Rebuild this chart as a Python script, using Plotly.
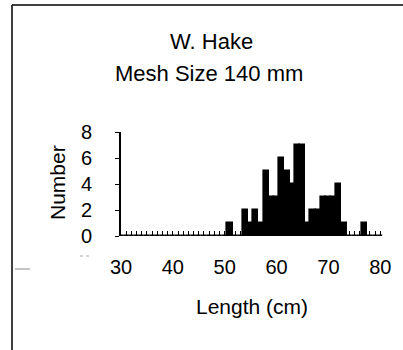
import plotly.graph_objects as go

# Data (length in cm -> number of fish)
lengths = list(range(30, 81))
counts_map = {51: 1, 54: 2, 55: 1, 56: 2, 57: 1, 58: 5, 59: 3, 60: 3, 61: 6,
              62: 5, 63: 4, 64: 7, 65: 7, 66: 1, 67: 2, 68: 2, 69: 3, 70: 3,
              71: 3, 72: 4, 73: 1, 77: 1}
counts = [counts_map.get(L, 0) for L in lengths]
x_ticks = [30, 40, 50, 60, 70, 80]
y_ticks = [0, 2, 4, 6, 8]
title_lines = ["W. Hake", "Mesh Size 140 mm"]
x_title = "Length (cm)"
y_title = "Number"

FONT = "Liberation Sans, Arial, Helvetica, sans-serif"
W, H = 403, 350
ML, MR, MT, MB = 121, 18, 132, 114
PW, PH = W - ML - MR, H - MT - MB

fig = go.Figure()
fig.add_trace(go.Bar(
    x=lengths, y=counts, width=1,
    marker=dict(color="black", line=dict(color="black", width=1.6)),
    showlegend=False,
))

fig.update_layout(
    width=W, height=H,
    margin=dict(l=ML, r=MR, t=MT, b=MB),
    paper_bgcolor="white", plot_bgcolor="white",
    font=dict(family=FONT, color="black", size=20),
    bargap=0,
    xaxis=dict(
        range=[30, 80.9], tickvals=x_ticks, ticktext=[str(v) for v in x_ticks],
        ticks="inside", ticklen=5, tickwidth=1.3, tickcolor="black",
        minor=dict(dtick=1, tick0=30, ticks="inside", ticklen=5, tickwidth=1.3, tickcolor="black"),
        showgrid=False, zeroline=False, showline=False,
        tickfont=dict(size=20), ticklabelstandoff=17,
    ),
    yaxis=dict(
        range=[0, 8], tickvals=y_ticks,
        ticks="outside", ticklen=4, tickwidth=1, tickcolor="black",
        showgrid=False, zeroline=False, showline=True, linecolor="black", linewidth=2,
        tickfont=dict(size=20), ticklabelstandoff=19,
    ),
)

# paper coords are relative to the plot area; convert from pixel positions
def px_x(px):
    return (px - ML) / PW

def px_y(py):
    return (H - MB - py) / PH

fig.add_annotation(text=title_lines[0], x=px_x(211), y=px_y(41), xref="paper", yref="paper",
                   showarrow=False, font=dict(size=22), xanchor="center", yanchor="middle")
fig.add_annotation(text=title_lines[1], x=px_x(209), y=px_y(73), xref="paper", yref="paper",
                   showarrow=False, font=dict(size=22), xanchor="center", yanchor="middle")
fig.add_annotation(text=x_title, x=px_x(252), y=px_y(306), xref="paper", yref="paper",
                   showarrow=False, font=dict(size=21), xanchor="center", yanchor="middle")
fig.add_annotation(text=y_title, x=px_x(57), y=px_y(183), xref="paper", yref="paper",
                   showarrow=False, font=dict(size=21), textangle=-90,
                   xanchor="center", yanchor="middle")

# Frame lines (left and top) and scan marks
fig.add_shape(type="line", xref="paper", yref="paper", x0=px_x(12), x1=px_x(12),
              y0=px_y(5), y1=px_y(350), line=dict(color="black", width=1.5))
fig.add_shape(type="line", xref="paper", yref="paper", x0=px_x(12), x1=px_x(403),
              y0=px_y(5), y1=px_y(5), line=dict(color="black", width=1.5))
fig.add_shape(type="line", xref="paper", yref="paper", x0=px_x(15), x1=px_x(30),
              y0=px_y(269), y1=px_y(269), line=dict(color="#888888", width=1))
fig.add_shape(type="line", xref="paper", yref="paper", x0=px_x(80), x1=px_x(92),
              y0=px_y(256), y1=px_y(256), line=dict(color="#aaaaaa", width=1, dash="dot"))

fig.write_html("out.html")
